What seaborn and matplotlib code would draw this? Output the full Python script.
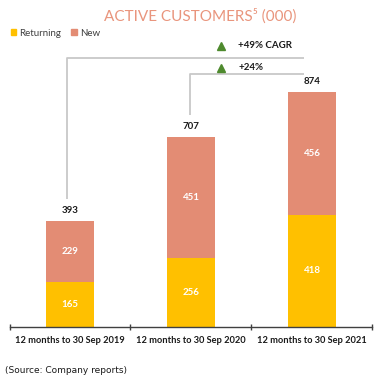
import matplotlib
matplotlib.use("Agg")
import matplotlib.pyplot as plt
from matplotlib.patches import Patch
import numpy as np
import pandas as pd
import seaborn as sns

# ─── Data ───────────────────────────────────────────────────────────────────
periods = ["12 months to 30 Sep 2019", "12 months to 30 Sep 2020", "12 months to 30 Sep 2021"]
returning = [165, 256, 418]
new = [229, 451, 456]
totals = [393, 707, 874]
growth_labels = ["+49% CAGR", "+24%"]

COL_RET = "#FFC000"
COL_NEW = "#E38C74"
COL_GRAY = "#C8C8C8"

sns.set_theme(style="white")
plt.rcParams["font.family"] = ["Lato", "DejaVu Sans"]

df = pd.DataFrame({"period": periods, "returning": returning, "new": new, "total": totals})

fig = plt.figure(figsize=(3.83, 3.82), dpi=100)
ax = fig.add_axes([9.5 / 383, 55.3 / 382, 363 / 383, 306.7 / 382])

sns.barplot(data=df, x="period", y="total", color=COL_NEW, width=0.4, ax=ax,
            saturation=1, linewidth=0, edgecolor="none")
sns.barplot(data=df, x="period", y="returning", color=COL_RET, width=0.4, ax=ax,
            saturation=1, linewidth=0, edgecolor="none")

ax.set_xlim(-0.5, 2.5)
ax.set_ylim(0, 1144)
ax.set_xlabel("")
ax.set_ylabel("")
ax.set_yticks([])
for s in ["top", "left", "right"]:
    ax.spines[s].set_visible(False)
ax.spines["bottom"].set_color("#404040")
ax.spines["bottom"].set_linewidth(1.0)

# ticks at category boundaries, labels at centres
ax.set_xticks([-0.5, 0.5, 1.5, 2.5])
ax.set_xticklabels([])
ax.set_xticks([0, 1, 2], minor=True)
ax.set_xticklabels(periods, minor=True, fontsize=6.7, fontweight="bold", color="#1a1a1a")
ax.tick_params(axis="x", which="major", direction="inout", length=5, width=1, color="#404040", bottom=True)
ax.tick_params(axis="x", which="minor", length=0, pad=7)

# value labels
for i, (r, n, t) in enumerate(zip(returning, new, totals)):
    ax.text(i, r / 2, f"{r}", ha="center", va="center", color="white", fontsize=7, fontweight="bold")
    ax.text(i, r + n / 2, f"{n}", ha="center", va="center", color="white", fontsize=7, fontweight="bold")
    ax.text(i, t + 22, f"{t}", ha="center", va="bottom", color="#1a1a1a", fontsize=7, fontweight="bold")

# growth brackets
bracket_y = [1004, 944]
bracket_x = [-0.025, 0.99]
right_x = 1.934
starts = [0, 1]
for k, (by, bx, st) in enumerate(zip(bracket_y, bracket_x, starts)):
    ax.plot([bx, bx, right_x], [totals[st] + 82, by, by], color=COL_GRAY, lw=1.3,
            solid_capstyle="butt", clip_on=False)
    ty = by + 44 if k == 0 else by + 22
    ax.plot(1.248, ty, marker="^", color="#4E8A2E", markersize=6, clip_on=False)
    ax.text(1.389, ty, growth_labels[k], ha="left", va="center",
            fontsize=7, fontweight="bold", color="#1a1a1a")

# title and legend
fig.text(0.522, 0.958, "ACTIVE CUSTOMERS\u2075 (000)", ha="center", va="center",
         fontsize=11, color="#E9957D")
handles = [Patch(color=COL_RET, label="Returning"), Patch(color=COL_NEW, label="New")]
fig.legend(handles=handles, loc="center left", bbox_to_anchor=(0.005, 0.913), ncol=2, frameon=False,
           fontsize=7, handlelength=0.6, handleheight=0.6, handletextpad=0.3, columnspacing=1.0,
           labelcolor="#404040")

fig.text(0.013, 0.031, "(Source: Company reports)", ha="left", va="center", fontsize=6.5,
         color="#1a1a1a", family=["DejaVu Sans"])

fig.savefig("out.png", dpi=100)
